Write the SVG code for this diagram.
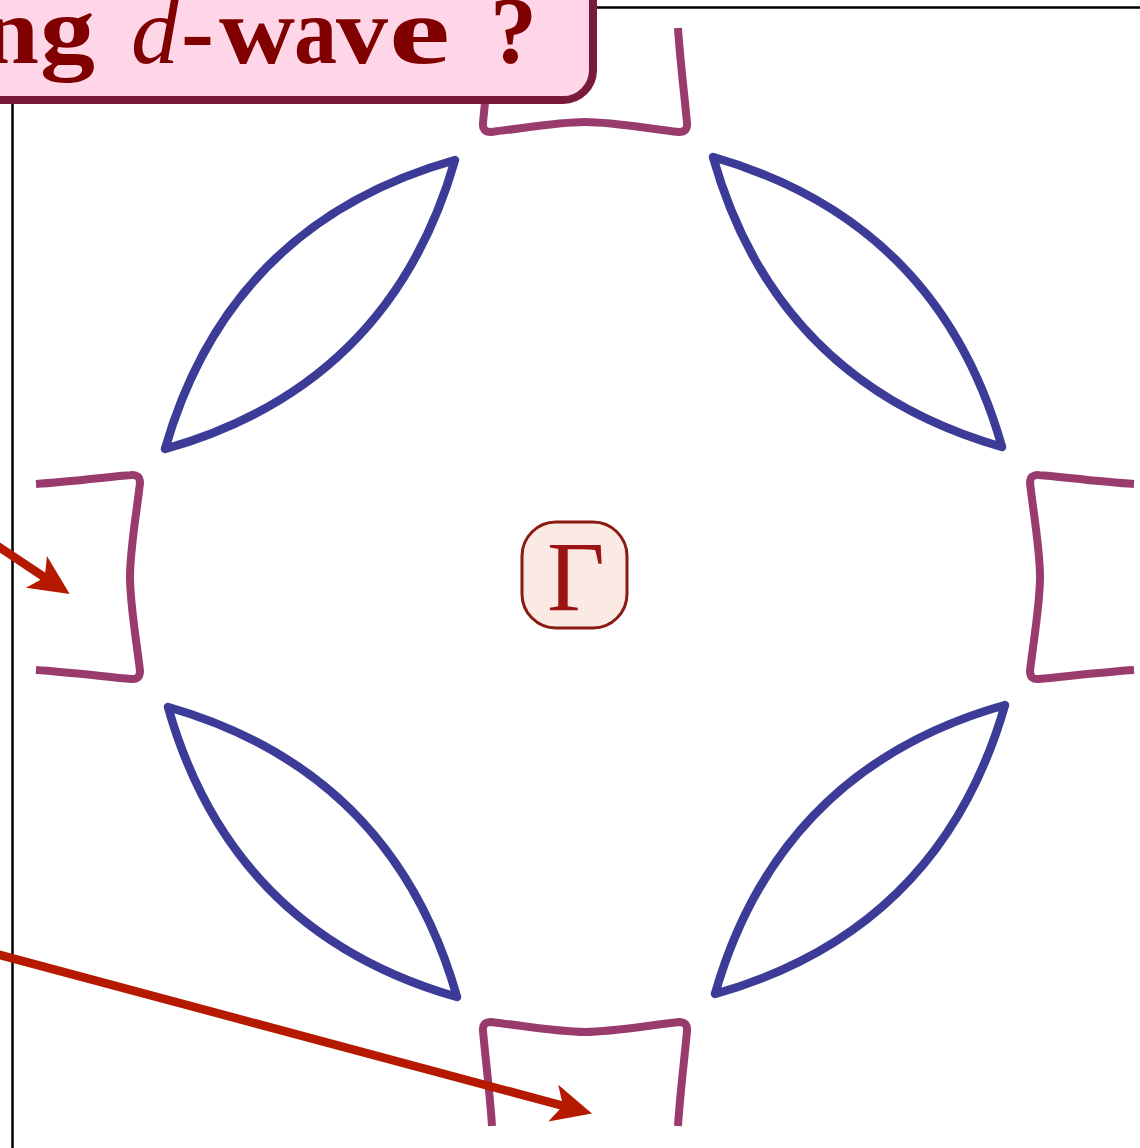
<svg xmlns="http://www.w3.org/2000/svg" width="1140" height="1148" viewBox="0 0 1140 1148">
  <defs>
    <style>
      .frame { fill: none; stroke: #000; stroke-width: 2.5; }
      .lens { fill: none; stroke: #3c3c98; stroke-width: 8.5; stroke-linejoin: round; }
      .pocket { fill: none; stroke: #9a3b6e; stroke-width: 8; stroke-linejoin: round; }
      .arrow { fill: none; stroke: #b51a00; stroke-width: 8.5; }
      .title { font-family: "Liberation Serif", "DejaVu Serif", serif; font-size: 96px; font-weight: bold; fill: #800000; }
      .gamma { font-family: "Liberation Serif", "DejaVu Serif", serif; font-size: 100px; fill: #9b1313; }
    </style>
    <marker id="head" markerUnits="userSpaceOnUse" orient="auto" refX="0" refY="0" markerWidth="80" markerHeight="80" viewBox="-40 -40 80 80" overflow="visible">
      <path d="M22,0 L-18,-19 L-8,0 L-18,19 Z" fill="#b51a00"/>
    </marker>
    <path id="lensTL" d="M455,160 C304.7,202.5 208.1,298.9 165,449 C315.3,406.5 411.9,310.1 455,160 Z"/>
    <path id="pocketTop" d="M678,28 C680,60 685,100 687,123 Q688,132 679,132 C645,128 612,122 585,122 C558,122 525,128 491,132 Q482,132 483,123 C485,100 490,60 492,28"/>
  </defs>

  <rect width="1140" height="1148" fill="#fff"/>

  <g id="frame">
    <line class="frame" x1="12.5" y1="95" x2="12.5" y2="1148"/>
    <line class="frame" x1="590" y1="7.5" x2="1140" y2="7.5"/>
  </g>

  <g id="lens-top-left"><use href="#lensTL" class="lens"/></g>
  <g id="lens-top-right"><use href="#lensTL" class="lens" transform="rotate(90 585 577)"/></g>
  <g id="lens-bottom-right"><use href="#lensTL" class="lens" transform="rotate(180 585 577)"/></g>
  <g id="lens-bottom-left"><use href="#lensTL" class="lens" transform="rotate(270 585 577)"/></g>

  <g id="pocket-top"><use href="#pocketTop" class="pocket"/></g>
  <g id="pocket-right"><use href="#pocketTop" class="pocket" transform="rotate(90 585 577)"/></g>
  <g id="pocket-bottom"><use href="#pocketTop" class="pocket" transform="rotate(180 585 577)"/></g>
  <g id="pocket-left"><use href="#pocketTop" class="pocket" transform="rotate(270 585 577)"/></g>

  <g id="gamma">
    <rect x="522" y="522" width="105" height="106" rx="34" fill="#fbeae3" stroke="#8b1a10" stroke-width="3"/>
    <text class="gamma" x="576" y="610" text-anchor="middle">Γ</text>
  </g>

  <g id="connectors">
    <path class="arrow" d="M-10,541 L51.4,581.9" marker-end="url(#head)"/>
    <path class="arrow" d="M-10,952.3 L570.7,1107.8" marker-end="url(#head)"/>
  </g>

  <g id="title">
    <rect x="-60" y="-60" width="653" height="160" rx="30" fill="#ffd6e8" stroke="#7a1a3a" stroke-width="8"/>
    <text class="title" y="63"><tspan x="-19" textLength="58" lengthAdjust="spacingAndGlyphs">n</tspan><tspan x="40" textLength="55" lengthAdjust="spacingAndGlyphs">g</tspan> <tspan x="131" font-style="italic" font-weight="normal">d</tspan><tspan x="181" textLength="33" lengthAdjust="spacingAndGlyphs">-</tspan><tspan x="219" textLength="76" lengthAdjust="spacingAndGlyphs">w</tspan><tspan x="294" textLength="43" lengthAdjust="spacingAndGlyphs">a</tspan><tspan x="336" textLength="52" lengthAdjust="spacingAndGlyphs">v</tspan><tspan x="389" textLength="61" lengthAdjust="spacingAndGlyphs">e</tspan> <tspan x="490" textLength="47" lengthAdjust="spacingAndGlyphs">?</tspan></text>
  </g>
</svg>
